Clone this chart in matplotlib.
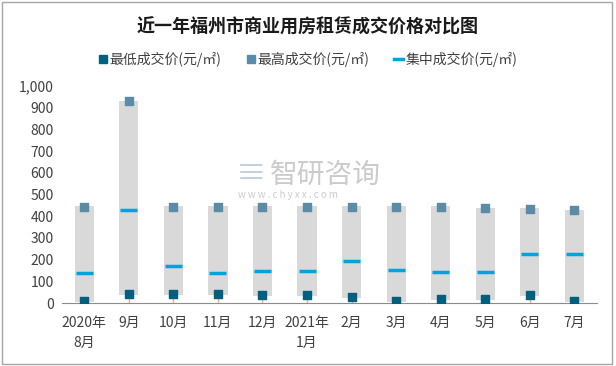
import matplotlib
matplotlib.use("Agg")
import matplotlib.pyplot as plt
from matplotlib.lines import Line2D
from matplotlib.patches import Rectangle
from matplotlib.ticker import FuncFormatter

plt.rcParams['font.family'] = ['Noto Sans CJK SC', 'DejaVu Sans']

months = ["2020年\n8月", "9月", "10月", "11月", "12月", "2021年\n1月",
          "2月", "3月", "4月", "5月", "6月", "7月"]
low = [8, 41, 41, 41, 35, 35, 26, 8, 17, 17, 35, 8]
high = [441, 929, 441, 441, 441, 441, 441, 441, 441, 436, 432, 427]
mid = [137, 428, 170, 137, 146, 146, 192, 150, 141, 141, 224, 224]

c_low = "#01607f"
c_high = "#5a8ca7"
c_mid = "#00a3de"

fig = plt.figure(figsize=(6.16, 3.66), dpi=100)
fig.patches.append(Rectangle((0.004, 0.006), 0.99, 0.988, transform=fig.transFigure,
                             fill=False, edgecolor="#a6a6a6", lw=1))
ax = fig.add_axes([0.1006, 0.172, 0.868, 0.593])

x = range(len(months))
ax.bar(x, [h - l + 6 for h, l in zip(high, low)], bottom=[l - 2 for l in low], width=0.43,
       color="#d9d9d9", zorder=1)
ax.vlines(x, 0, low, color="#f4b183", lw=1, zorder=2)
ax.hlines(mid, [i - 0.19 for i in x], [i + 0.19 for i in x], color=c_mid, lw=2.5, zorder=3)
ax.scatter(x, low, marker="s", s=38, color=c_low, zorder=4)
ax.scatter(x, high, marker="s", s=38, color=c_high, zorder=4)

ax.set_xlim(-0.5, len(months) - 0.5)
ax.set_ylim(0, 1000)
ax.set_yticks(range(0, 1001, 100))
ax.yaxis.set_major_formatter(FuncFormatter(lambda v, p: f"{int(v):,}"))
ax.set_xticks(list(x))
ax.set_xticklabels(months, linespacing=1.6)
ax.tick_params(axis="both", length=0, labelsize=10, colors="#404040", pad=6)
ax.tick_params(axis="x", pad=9)
for s in ["top", "right", "left"]:
    ax.spines[s].set_visible(False)
ax.spines["bottom"].set_color("#8c8c8c")
ax.spines["bottom"].set_linestyle((0, (2, 1)))

# watermark
fig.text(0.438, 0.522, "智研咨询", fontsize=20, color="#bfbfbf", alpha=0.8, ha="left", va="center")
fig.text(0.386, 0.468, "w w w . c h y x x . c o m", fontsize=7, color="#bfbfbf", alpha=0.8,
         ha="left", va="center")
fig.text(0.408, 0.522, "≡", fontsize=22, color="#b4c3dc", alpha=0.8, ha="center", va="center")

fig.text(0.5, 0.926, "近一年福州市商业用房租赁成交价格对比图", fontsize=13, fontweight="bold",
         ha="center", va="center", color="#1a1a1a")

handles = [
    Line2D([], [], marker="s", color=c_low, ls="none", markersize=6),
    Line2D([], [], marker="s", color=c_high, ls="none", markersize=6),
    Line2D([], [], color=c_mid, lw=2.5),
]
labels = ["最低成交价(元/㎡)", "最高成交价(元/㎡)", "集中成交价(元/㎡)"]
fig.legend(handles, labels, loc="center", bbox_to_anchor=(0.5, 0.838), ncol=3, frameon=False,
           fontsize=10, handlelength=0.6, handletextpad=0.2, columnspacing=1.8,
           labelcolor="#404040")

fig.savefig("out.png", dpi=100)
